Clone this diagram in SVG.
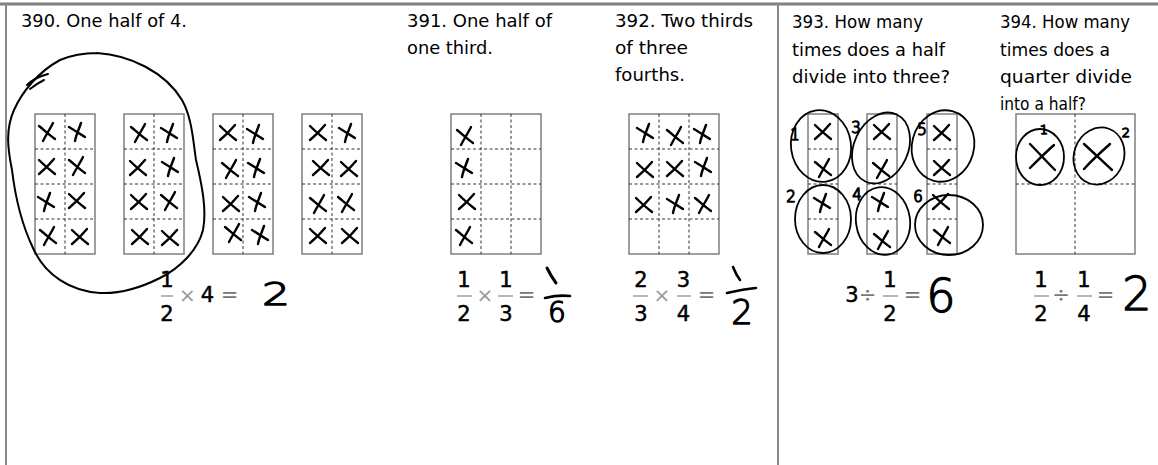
<svg xmlns="http://www.w3.org/2000/svg" xmlns:xlink="http://www.w3.org/1999/xlink" width="1158" height="465" viewBox="0 0 1158 465">
<style>
.bg{fill:#fff}
.frame{stroke:#8a8a8a;stroke-width:2;fill:none}
.box{fill:#fff;stroke:#7f7f7f;stroke-width:1.5}
.dash{stroke:#333;stroke-width:1;stroke-dasharray:3 2.5;fill:none}
.ink{stroke:#000;fill:none;stroke-width:2.4;stroke-linecap:round;stroke-linejoin:round}
.ring{stroke:#000;fill:none;stroke-width:1.8}
.t{font-family:"DejaVu Sans","Liberation Sans",sans-serif;font-size:17px;fill:#000}
.n{font-family:"DejaVu Sans","Liberation Sans",sans-serif;font-size:21px;fill:#000;stroke:#000;stroke-width:0.5;text-anchor:middle}
.op{font-family:"DejaVu Sans","Liberation Sans",sans-serif;font-size:20px;fill:#999;text-anchor:middle}
.eqs{font-family:"DejaVu Sans","Liberation Sans",sans-serif;font-size:21px;fill:#777;text-anchor:middle}
.bar{stroke:#888;stroke-width:1.2}
.hw{font-family:"DejaVu Sans","Liberation Sans",sans-serif;font-weight:300;fill:#000;stroke:#000;stroke-width:1.3;stroke-linejoin:round;text-anchor:middle}
</style>
<defs>
<path id="xa" d="M-8,-6 C-3,-2 2,3 8,7 M6,-9 C3,-3 -1,3 -4,9"/>
<path id="xb" d="M-8,-5 C-3,-2 3,2 8,5 M4,-9 C2,-3 -1,3 -2,9"/>
<path id="xc" d="M-8,-7 C-3,-2 3,3 8,7 M7,-8 C2,-2 -3,3 -8,7"/>
</defs>
<rect class="bg" x="0" y="0" width="1158" height="465"/>

<g id="frame">
<line x1="0" y1="4" x2="1158" y2="4" stroke="#808080" stroke-width="3"/>
<line x1="6" y1="4" x2="6" y2="465" class="frame"/>
<line x1="778" y1="4" x2="778" y2="465" class="frame"/>
</g>

<g id="p390">
<text class="t" x="21" y="27" textLength="166" lengthAdjust="spacingAndGlyphs">390. One half of 4.</text>
<g id="p390-boxes">
<rect class="box" x="35" y="114" width="60" height="140"/>
<rect class="box" x="124" y="114" width="60" height="140"/>
<rect class="box" x="213" y="114" width="60" height="140"/>
<rect class="box" x="302" y="114" width="60" height="140"/>
<path class="dash" d="M65,114V254 M35,149H95 M35,184H95 M35,219H95 M154,114V254 M124,149H184 M124,184H184 M124,219H184 M243,114V254 M213,149H273 M213,184H273 M213,219H273 M332,114V254 M302,149H362 M302,184H362 M302,219H362"/>
</g>
<g class="ink">
<use href="#xa" x="47" y="132"/><use href="#xb" x="77" y="132"/>
<use href="#xc" x="47" y="167"/><use href="#xa" x="77" y="166"/>
<use href="#xb" x="46" y="202"/><use href="#xc" x="77" y="201"/>
<use href="#xa" x="48" y="236"/><use href="#xc" x="80" y="237"/>
<use href="#xa" x="139" y="133"/><use href="#xb" x="169" y="133"/>
<use href="#xc" x="138" y="168"/><use href="#xb" x="170" y="167"/>
<use href="#xc" x="139" y="202"/><use href="#xa" x="169" y="201"/>
<use href="#xc" x="140" y="237"/><use href="#xc" x="170" y="238"/>
<use href="#xc" x="228" y="133"/><use href="#xb" x="255" y="134"/>
<use href="#xa" x="230" y="169"/><use href="#xb" x="256" y="168"/>
<use href="#xc" x="231" y="204"/><use href="#xb" x="257" y="202"/>
<use href="#xa" x="233" y="233"/><use href="#xb" x="260" y="235"/>
<use href="#xc" x="318" y="133"/><use href="#xb" x="347" y="133"/>
<use href="#xc" x="321" y="168"/><use href="#xc" x="349" y="169"/>
<use href="#xa" x="318" y="204"/><use href="#xa" x="346" y="203"/>
<use href="#xc" x="318" y="236"/><use href="#xc" x="350" y="236"/>
<path d="M97,53 C130,55 165,72 182,100 C192,118 193,140 196,160 C202,185 207,210 203,230 C198,250 180,268 160,278 C140,288 120,294 100,293 C70,291 45,275 33,248 C22,225 15,195 12,170 C8,150 5,130 14,110 C22,92 38,72 60,60 C72,55 85,53 97,53" stroke-width="2"/>
<path d="M27,85 C33,79 40,76 48,74 M30,89 C35,85 40,82 44,80" stroke-width="2"/>
</g>
<text class="n" x="167" y="287">1</text>
<line class="bar" x1="161" y1="296" x2="173" y2="296"/>
<text class="n" x="167" y="321">2</text>
<text class="op" x="187.5" y="302">×</text>
<text class="n" x="207.5" y="302">4</text>
<text class="eqs" x="229.5" y="302">=</text>
<text class="hw" x="276" y="305" font-size="32" textLength="28" lengthAdjust="spacingAndGlyphs">2</text>
</g>

<g id="p391">
<text class="t" x="407" y="27" textLength="145" lengthAdjust="spacingAndGlyphs">391. One half of</text>
<text class="t" x="407" y="54" textLength="86" lengthAdjust="spacingAndGlyphs">one third.</text>
<rect class="box" x="451" y="114" width="90" height="140"/>
<path class="dash" d="M481,114V254 M511,114V254 M451,149H541 M451,184H541 M451,219H541"/>
<g class="ink">
<use href="#xa" x="465" y="136"/><use href="#xb" x="464" y="168"/>
<use href="#xc" x="467" y="202"/><use href="#xa" x="464" y="236"/>
<path d="M547,268 C550,274 553,279 556,283" stroke-width="3"/>
<path d="M545,298 C553,296 562,295 570,296" stroke-width="2.6"/>
</g>
<text class="n" x="464" y="287">1</text>
<line class="bar" x1="457" y1="296" x2="472" y2="296"/>
<text class="n" x="464" y="321">2</text>
<text class="op" x="485" y="302">×</text>
<text class="n" x="506" y="287">1</text>
<line class="bar" x1="498" y1="296" x2="513" y2="296"/>
<text class="n" x="506" y="321">3</text>
<text class="eqs" x="526.5" y="302">=</text>
<text class="hw" x="557" y="322" font-size="28">6</text>
</g>

<g id="p392">
<text class="t" x="615" y="27" textLength="138" lengthAdjust="spacingAndGlyphs">392. Two thirds</text>
<text class="t" x="615" y="54" textLength="73" lengthAdjust="spacingAndGlyphs">of three</text>
<text class="t" x="615" y="81" textLength="70" lengthAdjust="spacingAndGlyphs">fourths.</text>
<rect class="box" x="629" y="114" width="90" height="140"/>
<path class="dash" d="M659,114V254 M689,114V254 M629,149H719 M629,184H719 M629,219H719"/>
<g class="ink">
<use href="#xb" x="645" y="133"/><use href="#xa" x="675" y="136"/><use href="#xb" x="702" y="134"/>
<use href="#xc" x="645" y="170"/><use href="#xc" x="675" y="169"/><use href="#xb" x="703" y="167"/>
<use href="#xc" x="644" y="205"/><use href="#xb" x="675" y="204"/><use href="#xa" x="703" y="204"/>
<path d="M733,267 C735,272 737,276 740,280" stroke-width="2.6"/>
<path d="M727,293 C736,291 746,289 756,288" stroke-width="2.6"/>
</g>
<text class="n" x="641" y="287">2</text>
<line class="bar" x1="633" y1="296" x2="648" y2="296"/>
<text class="n" x="641" y="321">3</text>
<text class="op" x="662" y="302">×</text>
<text class="n" x="683.5" y="287">3</text>
<line class="bar" x1="677" y1="296" x2="691" y2="296"/>
<text class="n" x="683.5" y="321">4</text>
<text class="eqs" x="706.5" y="302">=</text>
<text class="hw" x="742" y="324" font-size="34">2</text>
</g>

<g id="p393">
<text class="t" x="792" y="28" textLength="131" lengthAdjust="spacingAndGlyphs">393. How many</text>
<text class="t" x="792" y="56" textLength="153" lengthAdjust="spacingAndGlyphs">times does a half</text>
<text class="t" x="792" y="83" textLength="158" lengthAdjust="spacingAndGlyphs">divide into three?</text>
<rect class="box" x="808" y="114" width="30" height="140"/>
<rect class="box" x="867" y="114" width="30" height="140"/>
<rect class="box" x="927" y="114" width="30" height="140"/>
<path class="dash" d="M808,149H838 M808,184H838 M808,219H838 M867,149H897 M867,184H897 M867,219H897 M927,149H957 M927,184H957 M927,219H957"/>
<g class="ink">
<use href="#xc" x="823" y="132"/><use href="#xa" x="823" y="168"/><use href="#xb" x="822" y="203"/><use href="#xa" x="823" y="238"/>
<use href="#xc" x="882" y="132"/><use href="#xa" x="881" y="169"/><use href="#xb" x="880" y="202"/><use href="#xa" x="882" y="240"/>
<use href="#xc" x="942" y="133"/><use href="#xc" x="942" y="168"/><use href="#xc" x="941" y="202"/><use href="#xa" x="942" y="236"/>
</g>
<g class="ring">
<ellipse cx="821" cy="146" rx="30" ry="36" transform="rotate(-8 821 146)"/>
<ellipse cx="881" cy="148" rx="27" ry="37" transform="rotate(25 881 148)"/>
<ellipse cx="943" cy="146" rx="31" ry="36" transform="rotate(15 943 146)"/>
<ellipse cx="823" cy="219" rx="28" ry="34"/>
<ellipse cx="883" cy="221" rx="27" ry="34" transform="rotate(-8 883 221)"/>
<ellipse cx="949" cy="225" rx="34" ry="30"/>
</g>
<g class="hw" font-size="15" stroke-width="0.7">
<text x="795" y="140">1</text>
<text x="856" y="133">3</text>
<text x="922" y="135">5</text>
<text x="791" y="202">2</text>
<text x="857" y="200">4</text>
<text x="918" y="202">6</text>
</g>
<text class="n" x="852" y="302">3</text>
<text class="eqs" x="867.5" y="302">÷</text>
<text class="n" x="890" y="287">1</text>
<line class="bar" x1="883" y1="296" x2="898" y2="296"/>
<text class="n" x="890" y="321">2</text>
<text class="eqs" x="912.5" y="302">=</text>
<text class="hw" x="941" y="312" font-size="46" stroke-width="1.6">6</text>
</g>

<g id="p394">
<text class="t" x="1000" y="28" textLength="130" lengthAdjust="spacingAndGlyphs">394. How many</text>
<text class="t" x="1000" y="56" textLength="110" lengthAdjust="spacingAndGlyphs">times does a</text>
<text class="t" x="1000" y="83" textLength="132" lengthAdjust="spacingAndGlyphs">quarter divide</text>
<text class="t" x="1000" y="110" textLength="86" lengthAdjust="spacingAndGlyphs">into a half?</text>
<rect class="box" x="1016" y="114" width="119" height="140"/>
<path class="dash" d="M1075,114V254 M1016,184H1135"/>
<g class="ink">
<path d="M1030,144 C1038,152 1046,161 1055,170 M1054,145 C1046,152 1038,160 1030,168"/>
<path d="M1084,144 C1093,152 1102,161 1112,170 M1110,144 C1101,152 1092,160 1084,169"/>
</g>
<g class="ring">
<ellipse cx="1040" cy="157" rx="24" ry="28"/>
<ellipse cx="1099" cy="156" rx="25" ry="29" transform="rotate(20 1099 156)"/>
</g>
<g class="hw" font-size="13" stroke-width="0.6">
<text x="1044" y="134">1</text>
<text x="1126" y="137">2</text>
</g>
<text class="n" x="1041" y="287">1</text>
<line class="bar" x1="1034" y1="296" x2="1049" y2="296"/>
<text class="n" x="1041" y="321">2</text>
<text class="eqs" x="1061" y="302">÷</text>
<text class="n" x="1084" y="287">1</text>
<line class="bar" x1="1077" y1="296" x2="1092" y2="296"/>
<text class="n" x="1084" y="321">4</text>
<text class="eqs" x="1105.5" y="302">=</text>
<text class="hw" x="1137" y="310" font-size="46" stroke-width="1.6">2</text>
</g>
</svg>
